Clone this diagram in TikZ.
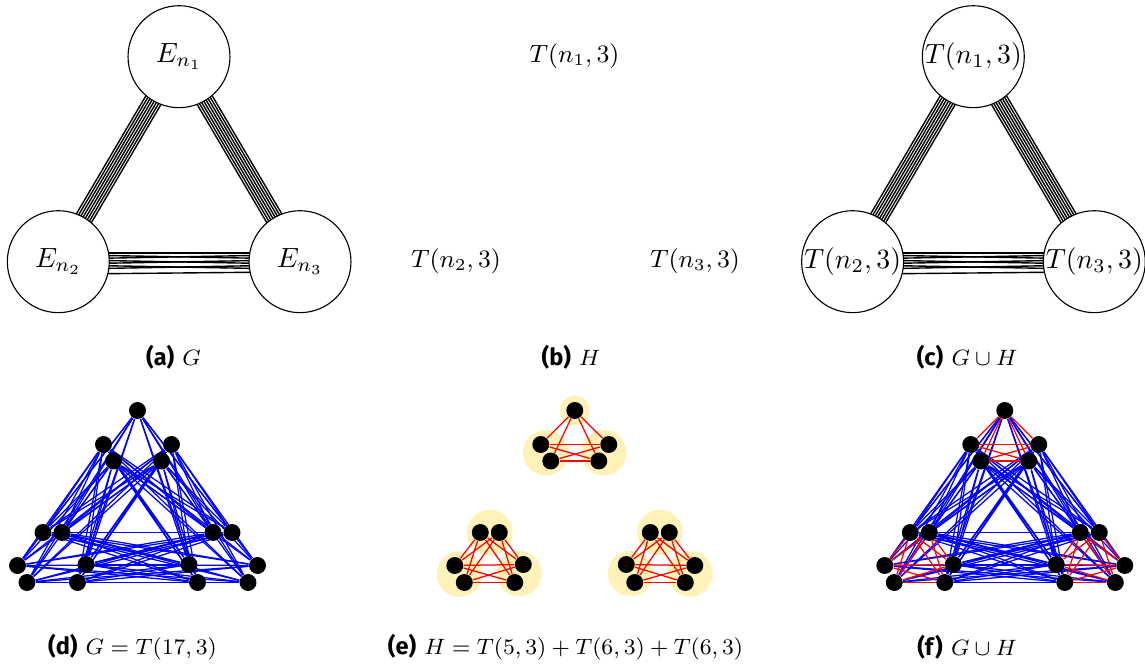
\documentclass[tikz,border=0pt]{standalone}
\usepackage{fontspec}
\setsansfont{Fira Sans}
\usetikzlibrary{calc}
\pgfdeclarelayer{bg}
\pgfdeclarelayer{edges}
\pgfsetlayers{bg,edges,main}
\definecolor{hl}{RGB}{255,242,184}
\newcommand\diagbundle[3]{%
  \foreach \d in {-9.8,-7,-4.2,-1.4,1.4,4.2,7,9.8}
    \draw[bund] ($(#1)+({#3+\d}:51)$) -- ($(#2)+({#3+180-\d}:51)$);}
\newcommand\horbundle[2]{%
  \foreach \d/\e in {-9.8/-9.8,-6.9/-4.0,-4.0/-6.9,-1.2/1.7,1.7/-1.2,4.6/7.5,7.5/4.6,13.6/12}
    \draw[bund] ($(#1)+(\d:51)$) -- ($(#2)+({180-\e}:51)$);}
\begin{document}
\begin{tikzpicture}[x=0.36pt,y=-0.36pt,
  big/.style={circle,draw,line width=0.4pt,minimum size=36.7pt,inner sep=0pt,font=\fontsize{10}{12}\selectfont},
  plain/.style={inner sep=0pt,font=\fontsize{9.1}{11}\selectfont},
  vtx/.style={circle,fill=black,minimum size=6.1pt,inner sep=0pt},
  gedge/.style={blue,line width=0.45pt},
  hedge/.style={red,line width=0.45pt},
  bund/.style={line width=0.5pt},
  captext/.style={font=\fontsize{8.5}{10}\selectfont,inner sep=0pt}]
\useasboundingbox (0,0) rectangle (1145,666);

% (a)
\node[big] (a1) at (179,56.7) {$E_{n_1}$};
\node[big] (a2) at (58.3,261.7) {$E_{n_2}$};
\node[big] (a3) at (300,261.7) {$E_{n_3}$};
\diagbundle{a1}{a2}{120.5}
\diagbundle{a1}{a3}{59.4}
\horbundle{a2}{a3}

% (b)
\node[plain] (b1) at (574.5,56.7) {$T(n_1,3)$};
\node[plain] (b2) at (456,261.7) {$T(n_2,3)$};
\node[plain] (b3) at (695,261.7) {$T(n_3,3)$};

% (c)
\node[big] (c1) at (973.3,56.7) {$T(n_1,3)$\hspace{2.4pt}};
\node[big] (c2) at (852.6,261.7) {$T(n_2,3)$};
\node[big] (c3) at (1094.3,261.7) {$T(n_3,3)$\hspace{1.6pt}};
\diagbundle{c1}{c2}{120.5}
\diagbundle{c1}{c3}{59.4}
\horbundle{c2}{c3}

% vertices of (d), (e), (f)
\foreach \ox/\p in {0/d,437.3/e,867.3/f} {
  \foreach \x/\y [count=\k] in {137.5/410.5, 103.5/444.5, 113.5/461, 171.5/444.5, 161.5/461,
      43/532.5, 62/532.5, 17.5/565.5, 27/582.5, 86/564.5, 77.5/582.5,
      213/532.5, 232/532.5, 189/564.5, 197.5/582.5, 257.5/565.5, 248/582.5}
    \node[vtx] (\p\k) at (\x+\ox,\y) {};
}

% highlight discs of (e)
\begin{pgfonlayer}{bg}
  \fill[hl] (e1) circle[radius=5.4pt];
  \foreach \i/\j in {2/3,4/5,6/7,8/9,10/11,12/13,14/15,16/17}
    \fill[hl] ($(e\i)!0.5!(e\j)$) circle[radius=8.2pt];
\end{pgfonlayer}

% edges
\begin{pgfonlayer}{edges}
\foreach \p in {d,f} {
  \foreach \i in {1,...,5} \foreach \j in {6,...,17} \draw[gedge] (\p\i) -- (\p\j);
  \foreach \i in {6,...,11} \foreach \j in {12,...,17} \draw[gedge] (\p\i) -- (\p\j);
}
\foreach \p in {e,f} {
  \foreach \i/\j in {1/2,1/3,1/4,1/5,2/4,2/5,3/4,3/5,
      6/8,6/9,6/10,6/11,7/8,7/9,7/10,7/11,8/10,8/11,9/10,9/11,
      12/14,12/15,12/16,12/17,13/14,13/15,13/16,13/17,14/16,14/17,15/16,15/17}
    \draw[hedge] (\p\i) -- (\p\j);
}
\end{pgfonlayer}

% captions
\node[captext] (capa) at (173.5,357) {{\sffamily\bfseries (a)} $G$};
\node[captext] (capb) at (571,357) {{\sffamily\bfseries (b)} $H$};
\node[captext] (capc) at (967,357) {{\sffamily\bfseries (c)} $G\cup H$};
\node[captext] (capd) at (132.5,647) {{\sffamily\bfseries (d)} $G=T(17,3)$};
\node[captext] (cape) at (565.5,647) {{\sffamily\bfseries (e)} $H=T(5,3)+T(6,3)+T(6,3)$};
\node[captext] (capf) at (967,647) {{\sffamily\bfseries (f)} $G\cup H$};
\end{tikzpicture}
\end{document}
